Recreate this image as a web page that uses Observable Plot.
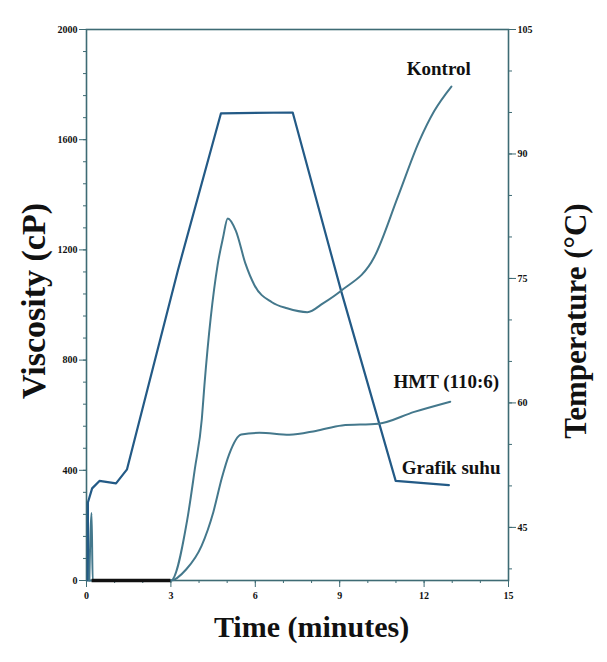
<!DOCTYPE html>
<html>
<head>
<meta charset="utf-8">
<script src="https://cdn.jsdelivr.net/npm/d3@7"></script>
<script src="https://cdn.jsdelivr.net/npm/@observablehq/plot@0.6"></script>
<style>
  html, body { margin: 0; padding: 0; background: #ffffff; }
  #chart { width: 607px; height: 662px; }
</style>
</head>
<body>
<div id="chart"></div>
<script>
// ---- Data (RVA pasting profile) ----
// Kontrol viscosity (cP) vs time (minutes)
const kontrolTime = [0.1, 0.18, 0.22, 3.0, 3.58, 3.85, 4.10, 4.19, 4.66, 4.85, 5.02, 5.31, 5.65, 5.97, 6.59, 7.13, 7.85, 8.42, 9.05, 10.23, 11.08, 11.82, 12.36, 12.97];
const kontrolVisc = [0, 245, 0, 0, 220, 404, 587, 707, 1145, 1243, 1314, 1269, 1150, 1072, 1010, 988, 974, 1007, 1052, 1174, 1396, 1593, 1704, 1793];

// HMT (110:6) viscosity (cP) vs time (minutes)
const hmtTime = [0.1, 3.0, 3.54, 4.09, 4.51, 4.81, 5.07, 5.50, 6.15, 7.21, 8.15, 9.08, 10.37, 11.65, 12.93];
const hmtVisc = [0, 0, 40, 126, 249, 372, 458, 530, 536, 529, 543, 563, 569, 612, 649];

// Temperature profile (Grafik suhu), °C vs time (minutes)
const tempTime = [0.05, 0.05, 0.2, 0.46, 1.05, 1.44, 3.25, 4.78, 7.33, 9.05, 10.99, 12.88];
const tempVal  = [38.6, 48.0, 49.7, 50.6, 50.3, 52.0, 76.0, 94.9, 95.0, 73.5, 50.6, 50.1];

// Axis ticks
const xTicks = [0, 3, 6, 9, 12, 15];
const xMinor = [0,1,2,3,4,5,6,7,8,9,10,11,12,13,14,15];
const viscTicks = [0, 400, 800, 1200, 1600, 2000];
const viscMinor = d3.range(0, 2001, 80);
const tempTicks = [45, 60, 75, 90, 105];
const tempMinor = [40, 45, 50, 55, 60, 65, 70, 75, 80, 85, 90, 95, 100, 105];
const tempDomain = [38.6, 105];
const viscDomain = [0, 2000];

// Overlapping zero segment of both viscosity traces (drawn heavy in the reference)
const zeroSegStart = [0.2];
const zeroSegEnd = [3.0];

// Series labels (text, time, viscosity-scale position)
const labelText = ["Kontrol", "HMT (110:6)", "Grafik suhu"];
const labelTime = [12.52, 12.79, 12.96];
const labelVisc = [1857, 722, 407];

// ---- Build tables ----
const toV = T => (T - tempDomain[0]) / (tempDomain[1] - tempDomain[0]) * (viscDomain[1] - viscDomain[0]);
const fromV = v => tempDomain[0] + v / (viscDomain[1] - viscDomain[0]) * (tempDomain[1] - tempDomain[0]);

const kontrol = kontrolTime.map((t, i) => ({t, v: kontrolVisc[i]}));
const hmt = hmtTime.map((t, i) => ({t, v: hmtVisc[i]}));
const temp = tempTime.map((t, i) => ({t, v: toV(tempVal[i])}));
const zeroSeg = zeroSegStart.map((a, i) => ({a, b: zeroSegEnd[i]}));
const labels = labelText.map((s, i) => ({s, t: labelTime[i], v: labelVisc[i]}));

const axisColor = "#3e6b74";
const curveColor = "#44788c";
const tempColor = "#235a86";
const serif = "'Liberation Serif', 'Times New Roman', serif";

const chart = Plot.plot({
  width: 607,
  height: 662,
  marginLeft: 86,
  marginRight: 99,
  marginTop: 29,
  marginBottom: 82,
  x: {domain: [0, 15]},
  y: {domain: viscDomain},
  style: {background: "#ffffff", fontFamily: serif, fontSize: "10px", color: "#111"},
  marks: [
    Plot.frame({stroke: axisColor, strokeWidth: 1.6}),
    // bottom axis
    Plot.axisX({ticks: xMinor, tickSize: 3, tickFormat: () => "", label: null, stroke: axisColor}),
    Plot.axisX({ticks: xTicks, tickSize: 7, tickPadding: 4, label: null, stroke: axisColor, fill: "#111",
      fontWeight: "bold", fontSize: 10}),
    // left axis (viscosity)
    Plot.axisY({ticks: viscMinor, tickSize: 3, tickFormat: () => "", label: null, stroke: axisColor}),
    Plot.axisY({ticks: viscTicks, tickSize: 7, tickPadding: 2, tickFormat: d => String(d), label: null,
      stroke: axisColor, fill: "#111", fontWeight: "bold", fontSize: 10}),
    // right axis (temperature)
    Plot.axisY({anchor: "right", ticks: tempMinor.map(toV), tickSize: 3, tickFormat: () => "", label: null, stroke: axisColor}),
    Plot.axisY({anchor: "right", ticks: tempTicks.map(toV), tickSize: 7, tickPadding: 2,
      tickFormat: d => String(Math.round(fromV(d))), label: null,
      stroke: axisColor, fill: "#111", fontWeight: "bold", fontSize: 10}),
    // curves
    Plot.line(temp, {x: "t", y: "v", stroke: tempColor, strokeWidth: 2.2, curve: "linear"}),
    Plot.line(hmt, {x: "t", y: "v", stroke: curveColor, strokeWidth: 2, curve: "monotone-x"}),
    Plot.line(kontrol, {x: "t", y: "v", stroke: curveColor, strokeWidth: 2, curve: "monotone-x"}),
    Plot.ruleY(zeroSeg, {x1: "a", x2: "b", y: () => 0, stroke: "#111", strokeWidth: 3.5}),
    // series labels
    Plot.text(labels, {x: "t", y: "v", text: "s", fontSize: 19, fontWeight: "bold", fill: "#111", fontFamily: serif}),
    // axis titles
    Plot.text(["Viscosity (cP)"], {text: d => d, frameAnchor: "left", textAnchor: "middle", rotate: -90, dx: -52, dy: -4,
      fontSize: 34, fontWeight: "bold", fill: "#111", fontFamily: serif, letterSpacing: "2px"}),
    Plot.text(["Temperature (\u00B0C)"], {text: d => d, frameAnchor: "right", textAnchor: "middle", rotate: -90, dx: 68, dy: 16,
      fontSize: 31, fontWeight: "bold", fill: "#111", fontFamily: serif, letterSpacing: "2px"}),
    Plot.text(["Time (minutes)"], {text: d => d, frameAnchor: "bottom", dx: 14, dy: 56,
      fontSize: 30, fontWeight: "bold", fill: "#111", fontFamily: serif})
  ]
});
document.getElementById("chart").appendChild(chart);
</script>
</body>
</html>
